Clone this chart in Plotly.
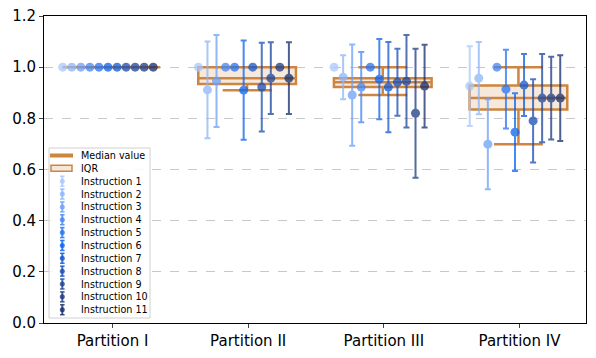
import numpy as np
import plotly.graph_objects as go

partitions = ["Partition I", "Partition II", "Partition III", "Partition IV"]
instructions = [f"Instruction {i}" for i in range(1, 12)]

# mean score per instruction (11 values) for each partition
mean_p1 = [1.0, 1.0, 1.0, 1.0, 1.0, 1.0, 1.0, 1.0, 1.0, 1.0, 1.0]
mean_p2 = [1.0, 0.911, 0.946, 1.0, 1.0, 0.910, 1.0, 0.922, 0.957, 1.0, 0.957]
mean_p3 = [1.0, 0.961, 0.891, 0.922, 1.0, 0.953, 0.922, 0.941, 0.945, 0.820, 0.926]
mean_p4 = [0.926, 0.957, 0.699, 1.0, 0.914, 0.746, 0.930, 0.790, 0.879, 0.879, 0.879]

# standard deviation per instruction
std_p1 = [0, 0, 0, 0, 0, 0, 0, 0, 0, 0, 0]
std_p2 = [0, 0.189, 0.180, 0, 0, 0.194, 0, 0.173, 0.140, 0, 0.140]
std_p3 = [0, 0.086, 0.198, 0.137, 0, 0.157, 0.176, 0.131, 0.181, 0.252, 0.162]
std_p4 = [0.156, 0.141, 0.176, 0, 0.154, 0.152, 0.121, 0.163, 0.172, 0.162, 0.168]

means = [mean_p1, mean_p2, mean_p3, mean_p4]
stds = [std_p1, std_p2, std_p3, std_p4]

colors = ["#a9c8fb", "#8db5f9", "#6b9ff7", "#4385f5", "#2273f4", "#0a62f0",
          "#0f56d0", "#164cb4", "#19439a", "#193a84", "#142c6a"]

ORANGE = "#cd853f"
step = 0.0667

# plot area in px (used for the hand-made legend)
W, H = 596, 358
L, R, T, B = 44, 10, 16, 35
PW, PH = W - L - R, H - T - B


def px(x):
    return (x - L) / PW


def py(y):
    return (H - B - y) / PH


# box stats (like matplotlib boxplot, whiskers at 1.5 IQR)
q1, med, q3, lo, hi = [], [], [], [], []
for m in means:
    a = np.array(m)
    a1, a2, a3 = np.percentile(a, [25, 50, 75])
    iqr = a3 - a1
    q1.append(a1); med.append(a2); q3.append(a3)
    lo.append(a[a >= a1 - 1.5 * iqr].min())
    hi.append(a[a <= a3 + 1.5 * iqr].max())

fig = go.Figure()

fig.add_trace(go.Box(
    x=np.arange(len(partitions)) - 0.008,
    q1=q1, median=med, q3=q3, lowerfence=lo, upperfence=hi,
    name="IQR", width=0.72, whiskerwidth=0.5, boxpoints=False,
    line=dict(color=ORANGE, width=2.5),
    fillcolor="rgba(205,133,63,0.18)",
    hoverinfo="skip",
))

for i, name in enumerate(instructions):
    xs = [p + (i - 5.5) * step for p in range(len(partitions))]
    fig.add_trace(go.Scatter(
        x=xs, y=[m[i] for m in means],
        mode="markers", name=name, opacity=0.75,
        marker=dict(color=colors[i], size=9),
        error_y=dict(type="data", array=[s[i] for s in stds], visible=True,
                     color=colors[i], thickness=2, width=3),
    ))

# legend drawn by hand (plotly rows are too tall)
shapes = []
annotations = []
shapes.append(dict(type="rect", xref="paper", yref="paper",
                   x0=px(49), x1=px(150), y0=py(318), y1=py(148),
                   line=dict(color="#d0d0d0", width=1),
                   fillcolor="rgba(255,255,255,0.85)", layer="above"))
labels = ["Median value", "IQR"] + instructions
row0, gap = 155.5, 12.85
for k, lab in enumerate(labels):
    yc = row0 + k * gap
    annotations.append(dict(xref="paper", yref="paper", x=px(79), y=py(yc),
                            text=lab, showarrow=False, xanchor="left",
                            yanchor="middle", font=dict(size=9.6)))
    if k == 0:
        shapes.append(dict(type="line", xref="paper", yref="paper",
                           x0=px(50), x1=px(73), y0=py(yc), y1=py(yc),
                           line=dict(color=ORANGE, width=4), layer="above"))
    elif k == 1:
        shapes.append(dict(type="rect", xref="paper", yref="paper",
                           x0=px(51), x1=px(72), y0=py(yc + 3), y1=py(yc - 3),
                           line=dict(color=ORANGE, width=1.5),
                           fillcolor="#f5e7da", layer="above"))
    else:
        c = colors[k - 2]
        op = 0.8
        shapes.append(dict(type="line", xref="paper", yref="paper",
                           x0=px(62.3), x1=px(62.3), y0=py(yc - 5), y1=py(yc + 5),
                           line=dict(color=c, width=2), opacity=op, layer="above"))
        for dy in (-5, 5):
            shapes.append(dict(type="line", xref="paper", yref="paper",
                               x0=px(60), x1=px(64.6), y0=py(yc + dy), y1=py(yc + dy),
                               line=dict(color=c, width=1.5), opacity=op, layer="above"))
        shapes.append(dict(type="circle", xref="paper", yref="paper",
                           x0=px(59.8), x1=px(64.8), y0=py(yc + 2.5), y1=py(yc - 2.5),
                           line=dict(color=c, width=0), fillcolor=c,
                           opacity=op, layer="above"))

fig.update_layout(
    width=W, height=H,
    margin=dict(l=L, r=R, t=T, b=B),
    paper_bgcolor="white", plot_bgcolor="white",
    font=dict(family="DejaVu Sans", size=15, color="black"),
    showlegend=False,
    shapes=shapes, annotations=annotations,
)
fig.update_xaxes(
    range=[-0.505, 3.49], tickvals=list(range(len(partitions))),
    ticktext=partitions, showgrid=False, zeroline=False, automargin=False,
    showline=True, linecolor="black", linewidth=1, mirror=True,
    ticks="outside", ticklen=4,
)
fig.update_yaxes(
    range=[0, 1.2], dtick=0.2, tickformat=".1f", automargin=False,
    showgrid=True, gridcolor="#c8c8c8", griddash="dash", gridwidth=1,
    zeroline=False, showline=True, linecolor="black", linewidth=1,
    mirror=True, ticks="outside", ticklen=4,
)

fig.write_html("out.html", config={"displayModeBar": False},
               post_script="document.body.style.margin='0';")
